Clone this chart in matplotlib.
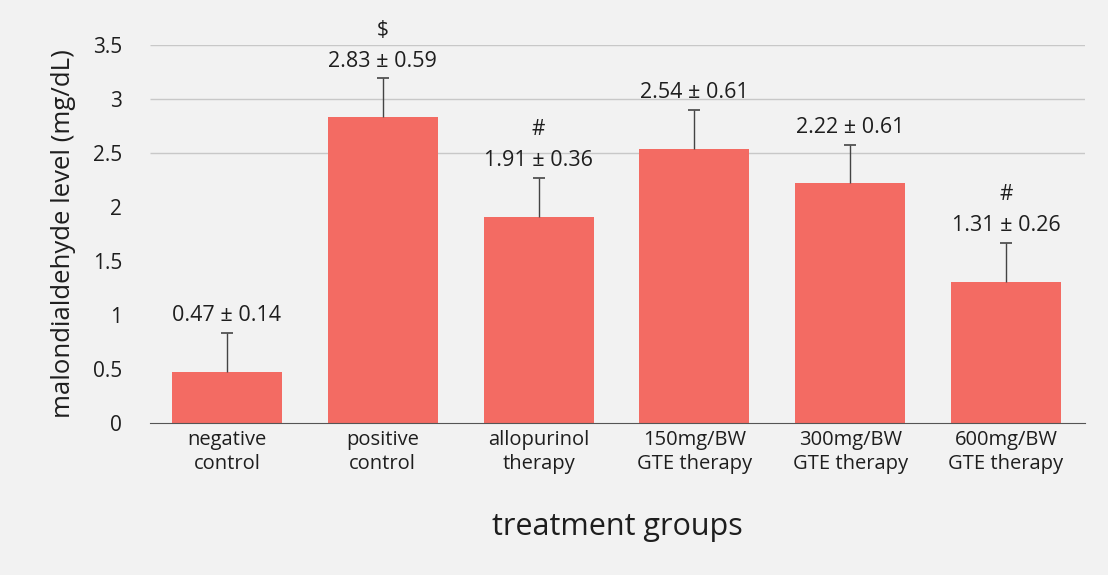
import matplotlib
matplotlib.use("Agg")
import matplotlib.pyplot as plt
import numpy as np

categories = ["negative\ncontrol", "positive\ncontrol", "allopurinol\ntherapy",
              "150mg/BW\nGTE therapy", "300mg/BW\nGTE therapy", "600mg/BW\nGTE therapy"]
means = [0.47, 2.83, 1.91, 2.54, 2.22, 1.31]
sds = [0.14, 0.59, 0.36, 0.61, 0.61, 0.26]
bar_err = [0.36, 0.36, 0.36, 0.36, 0.35, 0.36]   # plotted error-bar length
marks = ["", "$", "#", "", "", "#"]
yticks = [0, 0.5, 1, 1.5, 2, 2.5, 3, 3.5]
ytick_labels = ["0", "0.5", "1", "1.5", "2", "2.5", "3", "3.5"]
grid_levels = [2.5, 3, 3.5]

plt.rcParams['font.family'] = ['Open Sans', 'DejaVu Sans']
text_color = "#1e1e1e"
bar_color = "#f36b63"

fig = plt.figure(figsize=(11.08, 5.75), dpi=100)
fig.patch.set_facecolor("#f2f2f2")
ax = fig.add_axes([150/1108, 1-423/575, (1085-150)/1108, (423-45)/575])
ax.set_facecolor("none")

x = np.arange(len(categories))
means_a = np.array(means)
tops = means_a + np.array(bar_err)
ax.hlines(grid_levels, -0.494, 5.507, color="#c8c8c8", lw=1, zorder=0)
ax.bar(x, means, width=0.706, color=bar_color, zorder=2)
ax.vlines(x, means_a, tops, color="#444444", lw=1, zorder=3)
ax.plot(x, tops, ls="none", marker="_", ms=8, mew=1.2, color="#444444", zorder=3)

for xi, m, s, t, mk in zip(x, means, sds, tops, marks):
    ax.annotate(f"{m:.2f} \u00b1 {s:.2f}", (xi, t), xytext=(0, 5),
                textcoords="offset points", ha="center", va="bottom",
                fontsize=15.5, color=text_color)
    if mk:
        ax.annotate(mk.replace("$", r"\$"), (xi, t), xytext=(0, 27),
                    textcoords="offset points", ha="center", va="bottom",
                    fontsize=15, color=text_color)

ax.set_xlim(-0.494, 5.507)
ax.set_ylim(0, 3.5)
ax.set_yticks(yticks)
ax.set_yticklabels(ytick_labels, fontsize=15, color=text_color)
ax.set_xticks(x)
ax.set_xticklabels(categories, fontsize=14.5, color=text_color, linespacing=1.3)
ax.tick_params(axis="both", length=0)
ax.tick_params(axis="y", pad=20)
ax.tick_params(axis="x", pad=5)
for sp in ["top", "right", "left"]:
    ax.spines[sp].set_visible(False)
ax.spines["bottom"].set_color("#555555")
ax.spines["bottom"].set_linewidth(0.8)

ax.set_ylabel("malondialdehyde level (mg/dL)", fontsize=18.5, color=text_color, labelpad=12)
fig.text(617/1108, 1-527/575, "treatment groups", ha="center", va="center",
         fontsize=22, color=text_color)

fig.savefig("out.png", dpi=100, facecolor=fig.get_facecolor())
